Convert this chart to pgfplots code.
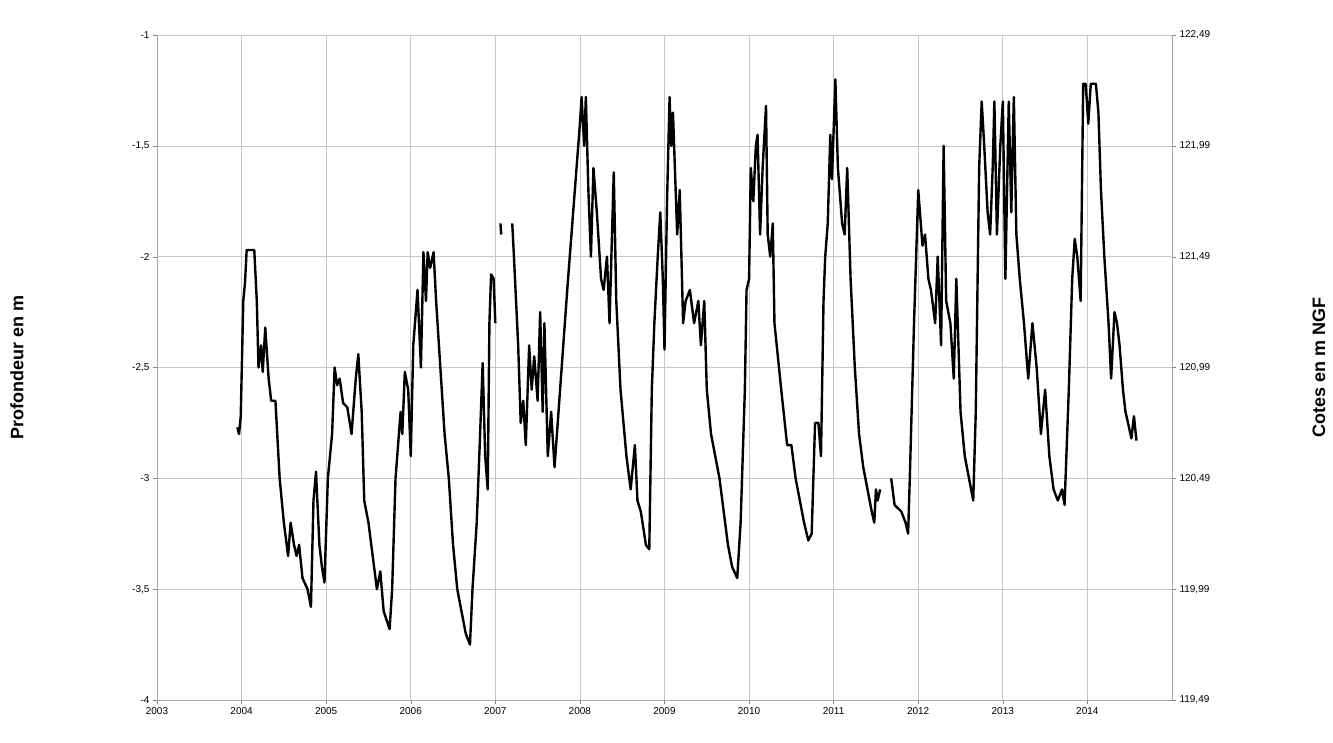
\documentclass[border=0pt]{standalone}
\usepackage{pgfplots}
\pgfplotsset{compat=1.18}
\usepackage{fontspec}
\setmainfont{Liberation Sans}
\tikzset{ser/.style={black, mark=none, line width=2.4pt, line join=round}}
\begin{document}
\begin{tikzpicture}
\useasboundingbox (0,0) rectangle (1333pt,742pt);
\pgfplotsset{every axis/.style={scale only axis, width=1015pt, height=665pt, at={(157pt,42pt)}, anchor=south west,
 xmin=2003, xmax=2015, ymin=-4, ymax=-1, tick label style={font=\fontsize{10}{12}\selectfont},
 axis line style={gray!70},
 /pgf/number format/assume math mode=true}}
\begin{axis}[
 axis y line*=right, axis x line=none, ymin=119.49, ymax=122.49,
 ytick={119.49,119.99,120.49,120.99,121.49,121.99,122.49},
 yticklabels={{119,49},{119,99},{120,49},{120,99},{121,49},{121,99},{122,49}},
 ylabel={\bfseries Cotes en m NGF}, ylabel style={font=\fontsize{18}{21}\selectfont, at={(1.135,0.5)}},
 tick align=outside, major tick length=4pt]
\end{axis}
\begin{axis}[
 axis y line*=left, axis x line*=bottom,
 xtick={2003,...,2014}, xticklabel style={/pgf/number format/1000 sep={}},
 ytick={-4,-3.5,...,-1},
 yticklabel style={/pgf/number format/use comma},
 grid=major, grid style={gray!45, line width=0.6pt},
 tick align=outside, major tick length=4pt,
 ylabel={\bfseries Profondeur en m}, ylabel style={font=\fontsize{18}{21}\selectfont, at={(-0.128,0.5)}}]
\addplot[ser] coordinates {(2003.95,-2.77)(2003.97,-2.80)(2003.99,-2.72)(2004.02,-2.2)(2004.04,-2.12)(2004.06,-1.97)(2004.15,-1.97)(2004.18,-2.2)(2004.2,-2.5)(2004.23,-2.4)(2004.25,-2.52)(2004.28,-2.32)(2004.32,-2.55)(2004.35,-2.65)(2004.4,-2.65)(2004.45,-3.0)(2004.5,-3.2)(2004.55,-3.35)(2004.58,-3.2)(2004.62,-3.3)(2004.65,-3.35)(2004.68,-3.3)(2004.72,-3.45)(2004.78,-3.5)(2004.82,-3.58)(2004.85,-3.1)(2004.88,-2.97)(2004.92,-3.3)(2004.95,-3.4)(2004.98,-3.47)(2005.02,-3.0)(2005.07,-2.8)(2005.1,-2.5)(2005.13,-2.58)(2005.16,-2.55)(2005.2,-2.66)(2005.25,-2.68)(2005.3,-2.8)(2005.35,-2.55)(2005.38,-2.44)(2005.42,-2.7)(2005.45,-3.1)(2005.5,-3.2)(2005.55,-3.35)(2005.6,-3.5)(2005.64,-3.42)(2005.68,-3.6)(2005.75,-3.68)(2005.78,-3.5)(2005.82,-3.0)(2005.88,-2.7)(2005.9,-2.8)(2005.93,-2.52)(2005.97,-2.6)(2006.0,-2.9)(2006.03,-2.4)(2006.08,-2.15)(2006.12,-2.5)(2006.15,-1.98)(2006.18,-2.2)(2006.2,-1.98)(2006.23,-2.05)(2006.27,-1.98)(2006.3,-2.2)(2006.35,-2.5)(2006.4,-2.8)(2006.45,-3.0)(2006.5,-3.3)(2006.55,-3.5)(2006.6,-3.6)(2006.65,-3.7)(2006.7,-3.75)(2006.73,-3.5)(2006.78,-3.2)(2006.82,-2.8)(2006.85,-2.48)(2006.88,-2.9)(2006.91,-3.05)(2006.93,-2.3)(2006.95,-2.08)(2006.98,-2.1)(2007.0,-2.3)};
\addplot[ser] coordinates {(2007.06,-1.85)(2007.07,-1.9)};
\addplot[ser] coordinates {(2007.2,-1.85)(2007.22,-2.0)(2007.27,-2.4)(2007.3,-2.75)(2007.33,-2.65)(2007.36,-2.85)(2007.4,-2.4)(2007.43,-2.6)(2007.46,-2.45)(2007.5,-2.65)(2007.53,-2.25)(2007.56,-2.7)(2007.58,-2.3)(2007.62,-2.9)(2007.66,-2.7)(2007.7,-2.95)(2007.85,-2.15)(2008.0,-1.4)(2008.02,-1.28)(2008.05,-1.5)(2008.07,-1.28)(2008.1,-1.7)(2008.13,-2.0)(2008.16,-1.6)(2008.2,-1.8)(2008.25,-2.1)(2008.28,-2.15)(2008.32,-2.0)(2008.35,-2.3)(2008.4,-1.62)(2008.43,-2.2)(2008.48,-2.6)(2008.55,-2.9)(2008.6,-3.05)(2008.65,-2.85)(2008.68,-3.1)(2008.72,-3.15)(2008.78,-3.3)(2008.82,-3.32)(2008.85,-2.6)(2008.88,-2.3)(2008.92,-2.0)(2008.95,-1.8)(2008.98,-2.1)(2009.0,-2.42)(2009.03,-1.75)(2009.06,-1.28)(2009.08,-1.5)(2009.1,-1.35)(2009.15,-1.9)(2009.18,-1.7)(2009.22,-2.3)(2009.25,-2.2)(2009.3,-2.15)(2009.35,-2.3)(2009.4,-2.2)(2009.43,-2.4)(2009.47,-2.2)(2009.5,-2.6)(2009.55,-2.8)(2009.6,-2.9)(2009.65,-3.0)(2009.7,-3.15)(2009.75,-3.3)(2009.8,-3.4)(2009.86,-3.45)(2009.9,-3.2)(2009.95,-2.6)(2009.97,-2.15)(2010.0,-2.1)(2010.02,-1.6)(2010.05,-1.75)(2010.08,-1.5)(2010.1,-1.45)(2010.13,-1.9)(2010.16,-1.6)(2010.2,-1.32)(2010.22,-1.9)(2010.25,-2.0)(2010.28,-1.85)(2010.3,-2.3)(2010.38,-2.6)(2010.45,-2.85)(2010.5,-2.85)(2010.55,-3.0)(2010.6,-3.1)(2010.65,-3.2)(2010.7,-3.28)(2010.74,-3.25)(2010.78,-2.75)(2010.82,-2.75)(2010.85,-2.9)(2010.88,-2.2)(2010.9,-2.0)(2010.93,-1.85)(2010.96,-1.45)(2010.98,-1.65)(2011.02,-1.2)(2011.05,-1.6)(2011.1,-1.85)(2011.13,-1.9)(2011.16,-1.6)(2011.2,-2.1)(2011.25,-2.5)(2011.3,-2.8)(2011.35,-2.95)(2011.4,-3.05)(2011.45,-3.15)(2011.48,-3.2)(2011.5,-3.05)(2011.52,-3.1)(2011.55,-3.05)};
\addplot[ser] coordinates {(2011.68,-3.0)(2011.72,-3.12)(2011.8,-3.15)(2011.85,-3.2)(2011.88,-3.25)(2011.9,-3.0)(2011.95,-2.3)(2012.0,-1.7)(2012.05,-1.95)(2012.08,-1.9)(2012.12,-2.1)(2012.15,-2.15)(2012.2,-2.3)(2012.23,-2.0)(2012.27,-2.4)(2012.3,-1.5)(2012.33,-2.2)(2012.38,-2.3)(2012.42,-2.55)(2012.45,-2.1)(2012.5,-2.7)(2012.55,-2.9)(2012.6,-3.0)(2012.65,-3.1)(2012.68,-2.7)(2012.72,-1.6)(2012.75,-1.3)(2012.78,-1.5)(2012.82,-1.8)(2012.85,-1.9)(2012.88,-1.6)(2012.9,-1.3)(2012.93,-1.9)(2012.97,-1.5)(2013.0,-1.3)(2013.03,-2.1)(2013.07,-1.3)(2013.1,-1.8)(2013.13,-1.28)(2013.16,-1.9)(2013.2,-2.1)(2013.25,-2.3)(2013.3,-2.55)(2013.35,-2.3)(2013.4,-2.5)(2013.45,-2.8)(2013.5,-2.6)(2013.55,-2.9)(2013.6,-3.05)(2013.65,-3.1)(2013.7,-3.05)(2013.73,-3.12)(2013.78,-2.6)(2013.82,-2.1)(2013.85,-1.92)(2013.88,-2.0)(2013.92,-2.2)(2013.95,-1.22)(2013.98,-1.22)(2014.01,-1.4)(2014.04,-1.22)(2014.1,-1.22)(2014.13,-1.35)(2014.16,-1.7)(2014.2,-2.0)(2014.25,-2.3)(2014.28,-2.55)(2014.32,-2.25)(2014.35,-2.3)(2014.38,-2.4)(2014.42,-2.6)(2014.45,-2.7)(2014.48,-2.75)(2014.52,-2.82)(2014.55,-2.72)(2014.58,-2.83)};
\end{axis}
\end{tikzpicture}
\end{document}
